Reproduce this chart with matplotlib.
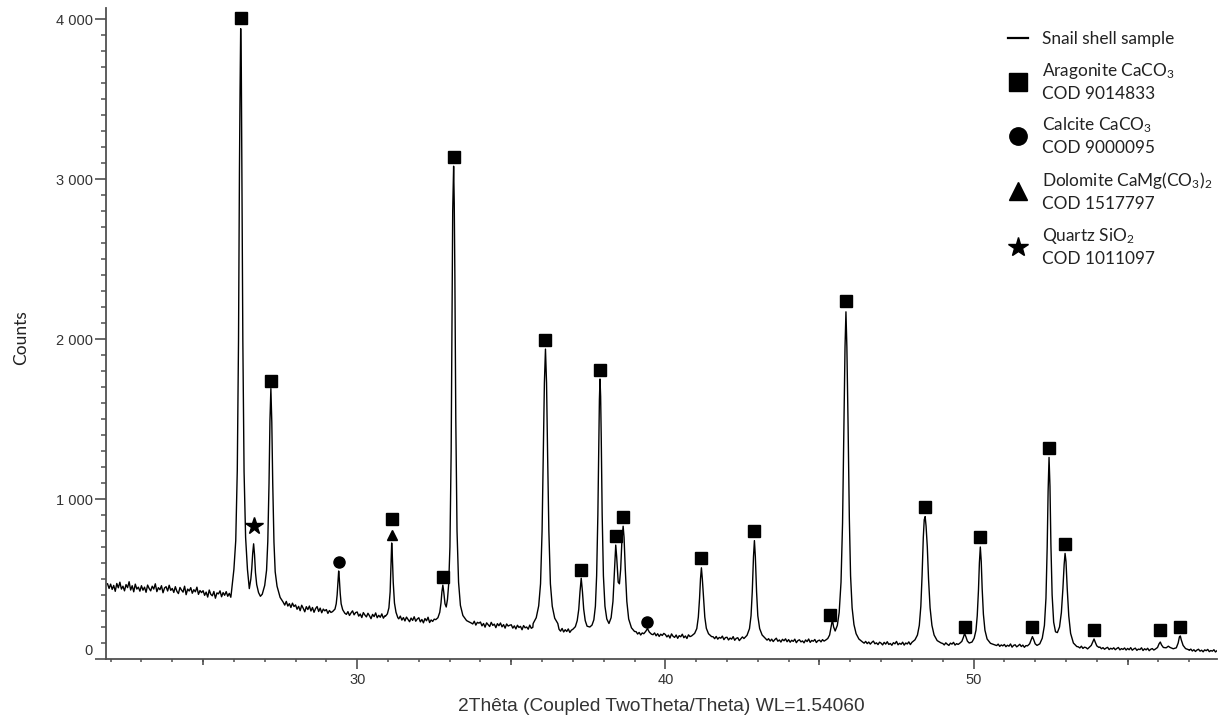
import numpy as np
import matplotlib
matplotlib.use("Agg")
import matplotlib.pyplot as plt
from matplotlib.lines import Line2D
from matplotlib.ticker import MultipleLocator, FixedLocator, FuncFormatter, NullLocator

# ---------------- data ----------------
# background scan, counts every 0.05 deg 2theta starting at 21.90
bg_start = 21.90
bg_step = 0.05
bg_counts = [
    470, 441,
    468, 435, 460, 423, 472, 445, 480, 437, 455, 426, 465, 446, 483, 431, 458, 420, 468, 437, 449, 424,
    458, 430, 449, 417, 462, 441, 426, 455, 437, 470, 421, 446, 433, 458, 414, 444, 452, 425, 461, 429,
    441, 416, 452, 423, 409, 447, 431, 418, 455, 402, 437, 425, 446, 411, 433, 420, 449, 404, 428, 415,
    427, 398, 418, 387, 431, 404, 395, 422, 380, 413, 407, 426, 389, 415, 398, 421, 392, 410, 386, 404,
    400, 400, 400, 400, 400, 400, 400, 400, 400, 400, 400, 400, 400, 400, 400, 400, 400, 400, 400, 400,
    360, 360, 360, 360, 360, 360, 360, 360, 360, 360, 360, 360, 352, 337, 360, 331, 346, 322, 349, 328,
    338, 311, 329, 302, 336, 317, 295, 327, 309, 331, 300, 322, 292, 315, 328, 297, 318, 289, 312, 301,
    309, 285, 303, 291, 296, 295, 295, 295, 295, 295, 295, 295, 295, 279, 296, 272, 288, 301, 276, 290,
    294, 268, 281, 259, 290, 275, 263, 286, 270, 252, 279, 265, 288, 258, 273, 261, 282, 255, 270, 264,
    262, 262, 262, 262, 262, 262, 262, 251, 268, 243, 259, 238, 262, 247, 233, 256, 241, 264, 236, 250,
    258, 232, 247, 226, 253, 239, 261, 228, 244, 235, 249, 240, 240, 240, 240, 240, 240, 240, 240, 240,
    232, 232, 232, 232, 232, 232, 232, 232, 232, 232, 232, 232, 232, 232, 232, 219, 236, 212, 229, 224,
    231, 207, 222, 199, 226, 214, 203, 229, 210, 218, 196, 221, 208, 225, 201, 215, 193, 219, 206, 211,
    214, 193, 207, 188, 211, 197, 204, 183, 209, 195, 200, 186, 212, 192, 198, 200, 200, 200, 200, 200,
    190, 190, 190, 190, 190, 190, 190, 190, 190, 190, 190, 186, 174, 191, 169, 183, 172, 188, 166, 180,
    180, 180, 180, 180, 180, 180, 180, 180, 180, 180, 180, 180, 180, 180, 180, 180, 180, 180, 180, 180,
    175, 175, 175, 175, 175, 175, 175, 175, 175, 175, 175, 175, 175, 175, 175, 175, 175, 175, 175, 175,
    162, 171, 156, 166, 150, 163, 160, 160, 160, 160, 160, 160, 152, 163, 145, 158, 141, 155, 147, 160,
    153, 138, 149, 131, 157, 142, 135, 150, 129, 146, 139, 155, 133, 144, 128, 151, 140, 140, 140, 140,
    140, 140, 140, 140, 140, 140, 140, 140, 140, 140, 140, 139, 127, 141, 124, 135, 130, 143, 121, 134,
    136, 119, 131, 124, 140, 117, 129, 133, 115, 127, 138, 128, 128, 128, 128, 128, 128, 128, 128, 128,
    128, 128, 128, 128, 128, 128, 118, 127, 112, 124, 109, 121, 130, 111, 119, 106, 123, 114, 126, 108,
    121, 105, 117, 110, 124, 102, 115, 120, 107, 113, 101, 119, 109, 125, 104, 116, 111, 122, 103, 114,
    118, 107, 121, 112, 115, 115, 115, 115, 115, 115, 115, 115, 115, 115, 115, 115, 115, 115, 115, 115,
    106, 106, 106, 106, 106, 106, 106, 106, 106, 99, 110, 96, 106, 93, 104, 112, 95, 101, 90, 105,
    99, 88, 104, 93, 108, 91, 97, 86, 102, 95, 110, 89, 98, 92, 105, 87, 100, 94, 107, 90,
    100, 100, 100, 100, 100, 100, 100, 100, 100, 100, 100, 100, 100, 100, 100, 100, 100, 100, 100, 100,
    97, 88, 101, 92, 85, 99, 93, 104, 87, 96, 91, 98, 98, 98, 98, 98, 98, 98, 98, 98,
    90, 90, 90, 90, 90, 90, 90, 90, 90, 90, 90, 90, 90, 90, 90, 84, 93, 79, 88, 82,
    91, 77, 86, 80, 94, 74, 85, 89, 76, 83, 92, 78, 87, 73, 84, 82, 82, 82, 82, 82,
    80, 80, 80, 80, 80, 80, 80, 80, 80, 80, 80, 80, 80, 80, 80, 80, 80, 80, 80, 80,
    78, 78, 78, 78, 78, 78, 78, 78, 76, 69, 80, 66, 74, 71, 63, 72, 72, 72, 72, 72,
    72, 72, 75, 64, 71, 61, 68, 73, 59, 67, 62, 70, 58, 66, 72, 57, 65, 60, 69, 56,
    66, 58, 71, 55, 63, 68, 54, 62, 59, 70, 53, 64, 57, 67, 52, 61, 65, 56, 60, 60,
    60, 60, 60, 60, 60, 60, 60, 60, 60, 60, 60, 60, 60, 60, 60, 60, 60, 60, 60, 60,
    54, 62, 50, 58, 47, 56, 61, 49, 55, 45, 57, 52, 60, 46, 53, 49, 58, 44, 52,
]

# detailed peak profiles (2theta, counts)
pk_26_27_x = [25.92, 26.00, 26.06, 26.11, 26.15, 26.18, 26.20, 26.22, 26.24, 26.26, 26.29, 26.33, 26.38,
              26.44, 26.50, 26.55, 26.58, 26.61, 26.64, 26.67, 26.70, 26.74, 26.80, 26.86, 26.92, 27.00,
              27.06, 27.10, 27.14, 27.17, 27.20, 27.23, 27.26, 27.30, 27.34, 27.40, 27.50, 27.60]
pk_26_27_y = [418, 560, 740, 1180, 1990, 3050, 3550, 3940, 3700, 3050, 1990, 1170, 760,
              560, 440, 500, 565, 660, 720, 650, 540, 465, 415, 392, 405, 460,
              555, 735, 1100, 1490, 1690, 1480, 1100, 730, 545, 455, 385, 355]
pk_29_x = [29.22, 29.28, 29.32, 29.35, 29.38, 29.40, 29.42, 29.45, 29.48, 29.53, 29.60]
pk_29_y = [300, 312, 345, 400, 495, 550, 505, 410, 345, 308, 286]
pk_31_x = [30.92, 30.98, 31.03, 31.07, 31.10, 31.12, 31.14, 31.17, 31.21, 31.26, 31.32]
pk_31_y = [268, 282, 320, 420, 600, 725, 650, 480, 350, 292, 258]
pk_33_x = [32.55, 32.62, 32.68, 32.72, 32.75, 32.78, 32.81, 32.85, 32.89, 32.93, 32.97, 33.01, 33.05,
           33.08, 33.10, 33.13, 33.15, 33.17, 33.20, 33.24, 33.29, 33.35, 33.43, 33.55, 33.70]
pk_33_y = [246, 258, 292, 350, 420, 462, 418, 345, 325, 372, 470, 700, 1300,
           2200, 2800, 3080, 2850, 2400, 1500, 800, 480, 335, 272, 240, 225]
pk_36_x = [35.71, 35.81, 35.89, 35.95, 36.00, 36.04, 36.075, 36.11, 36.145, 36.18, 36.22, 36.27,
           36.33, 36.41, 36.51]
pk_36_y = [222, 258, 332, 470, 800, 1275, 1725, 1937, 1725, 1270, 800, 470, 330, 255, 222]
pk_37_39_x = [37.00, 37.08, 37.14, 37.19, 37.23, 37.27, 37.31, 37.35, 37.40, 37.46, 37.55, 37.62, 37.68,
              37.73, 37.77, 37.81, 37.84, 37.86, 37.88, 37.90, 37.92, 37.95, 37.99, 38.04, 38.10, 38.17,
              38.24, 38.30, 38.34, 38.37, 38.39, 38.42, 38.47, 38.51, 38.55, 38.59, 38.63, 38.66, 38.70,
              38.75, 38.81, 38.90, 39.00]
pk_37_39_y = [186, 202, 240, 310, 420, 505, 420, 312, 240, 205, 200, 212, 245,
              330, 520, 900, 1350, 1620, 1750, 1640, 1380, 900, 520, 330, 250, 222,
              258, 360, 520, 650, 712, 640, 480, 470, 560, 740, 830, 760, 560,
              360, 250, 195, 172]
pk_394_x = [39.30, 39.36, 39.42, 39.48, 39.55]
pk_394_y = [158, 172, 190, 168, 155]
pk_41_x = [40.85, 40.95, 41.02, 41.07, 41.11, 41.14, 41.17, 41.20, 41.24, 41.28, 41.33, 41.40, 41.50]
pk_41_y = [144, 160, 190, 262, 380, 500, 570, 500, 380, 262, 192, 158, 140]
pk_43_x = [42.55, 42.65, 42.73, 42.78, 42.82, 42.86, 42.89, 42.92, 42.96, 43.00, 43.06, 43.14, 43.25]
pk_43_y = [128, 148, 190, 270, 420, 640, 740, 640, 420, 270, 190, 150, 128]
pk_46_x = [45.20, 45.27, 45.33, 45.38, 45.42, 45.46, 45.51, 45.58, 45.64, 45.70, 45.75, 45.79, 45.83,
           45.86, 45.89, 45.93, 45.97, 46.01, 46.06, 46.12, 46.19, 46.28, 46.40]
pk_46_y = [118, 128, 150, 205, 245, 200, 175, 210, 290, 480, 850, 1400, 1950,
           2170, 1950, 1450, 880, 520, 320, 215, 158, 125, 106]
pk_48_x = [48.00, 48.10, 48.18, 48.24, 48.29, 48.33, 48.37, 48.40, 48.43, 48.46, 48.50, 48.54, 48.59,
           48.65, 48.72, 48.82, 48.95]
pk_48_y = [104, 120, 150, 210, 330, 520, 760, 870, 890, 830, 700, 500, 320, 210, 150, 115, 100]
pk_50_x = [49.55, 49.62, 49.67, 49.71, 49.75, 49.80, 49.86, 49.95, 50.02, 50.08, 50.12, 50.16, 50.19,
           50.22, 50.25, 50.28, 50.32, 50.37, 50.44, 50.55, 50.70]
pk_50_y = [98, 110, 135, 160, 140, 112, 100, 106, 130, 180, 270, 430, 600, 700, 610, 440, 280, 180,
           125, 98, 88]
pk_52_53_x = [51.75, 51.82, 51.87, 51.91, 51.95, 52.00, 52.06, 52.15, 52.23, 52.30, 52.35, 52.39, 52.42,
              52.45, 52.48, 52.51, 52.55, 52.60, 52.66, 52.72, 52.79, 52.85, 52.90, 52.94, 52.97, 53.00,
              53.04, 53.09, 53.15, 53.24, 53.35]
pk_52_53_y = [82, 95, 120, 140, 122, 95, 85, 95, 130, 210, 380, 700, 1050,
              1260, 1080, 720, 400, 230, 170, 165, 200, 290, 440, 590, 660, 610,
              440, 270, 160, 100, 78]
pk_54_x = [53.75, 53.82, 53.87, 53.91, 53.95, 54.00, 54.07]
pk_54_y = [72, 85, 108, 125, 105, 82, 72]
pk_56_x = [55.90, 55.97, 56.02, 56.06, 56.10, 56.16, 56.25, 56.32, 56.38, 56.48, 56.58, 56.64, 56.68,
           56.71, 56.74, 56.80, 56.88, 56.98]
pk_56_y = [62, 72, 95, 106, 88, 72, 70, 80, 72, 64, 70, 100, 138, 144, 120, 85, 65, 58]

# phase markers (2theta, counts at which the symbol sits)
aragonite_2theta = [26.22, 27.20, 31.12, 32.78, 33.13, 36.11, 37.27, 37.88, 38.39, 38.63, 41.17, 42.89,
                    45.35, 45.86, 48.43, 49.71, 50.22, 51.91, 52.45, 52.97, 53.91, 56.05, 56.71]
aragonite_counts = [4006, 1740, 875, 515, 3135, 1995, 556, 1806, 768, 885, 630, 800,
                    275, 2235, 950, 200, 760, 200, 1320, 720, 181, 181, 200]
calcite_2theta = [29.40, 39.42]
calcite_counts = [606, 231]
dolomite_2theta = [31.12]
dolomite_counts = [775]
quartz_2theta = [26.64]
quartz_counts = [830]

legend_labels = ["Snail shell sample",
                 "Aragonite CaCO$_3$\nCOD 9014833",
                 "Calcite CaCO$_3$\nCOD 9000095",
                 "Dolomite CaMg(CO$_3$)$_2$\nCOD 1517797",
                 "Quartz SiO$_2$\nCOD 1011097"]
x_label = "2Thêta (Coupled TwoTheta/Theta) WL=1.54060"
y_label = "Counts"

# ---------------- assemble trace ----------------
groups = [(pk_26_27_x, pk_26_27_y), (pk_29_x, pk_29_y), (pk_31_x, pk_31_y), (pk_33_x, pk_33_y),
          (pk_36_x, pk_36_y), (pk_37_39_x, pk_37_39_y), (pk_394_x, pk_394_y), (pk_41_x, pk_41_y),
          (pk_43_x, pk_43_y), (pk_46_x, pk_46_y), (pk_48_x, pk_48_y), (pk_50_x, pk_50_y),
          (pk_52_53_x, pk_52_53_y), (pk_54_x, pk_54_y), (pk_56_x, pk_56_y)]
x_bg = bg_start + bg_step * np.arange(len(bg_counts))
y_bg = np.array(bg_counts, dtype=float)
keep = np.ones(len(x_bg), dtype=bool)
for gx, gy in groups:
    keep &= ~((x_bg >= gx[0] - 1e-9) & (x_bg <= gx[-1] + 1e-9))
x_all = np.concatenate([x_bg[keep]] + [np.array(gx) for gx, gy in groups])
y_all = np.concatenate([y_bg[keep]] + [np.array(gy, dtype=float) for gx, gy in groups])
order = np.argsort(x_all)
x_all, y_all = x_all[order], y_all[order]

# ---------------- figure ----------------
plt.rcParams['font.family'] = ['Liberation Sans', 'DejaVu Sans']
plt.rcParams['mathtext.fontset'] = 'custom'
plt.rcParams['mathtext.rm'] = 'Lato'
plt.rcParams['mathtext.default'] = 'regular'

W, H = 1220, 720
fig = plt.figure(figsize=(W / 100, H / 100), dpi=100)
L, R, T, B = 106, 1217, 8, 659
ax = fig.add_axes([L / W, 1 - B / H, (R - L) / W, (B - T) / H])

axis_col = '#505050'
text_col = '#333333'

ax.plot(x_all, y_all, color='black', lw=1.0)
ax.plot(aragonite_2theta, aragonite_counts, ls='none', marker='s', ms=8.4, color='black', clip_on=False)
ax.plot(calcite_2theta, calcite_counts, ls='none', marker='o', ms=8.0, color='black')
ax.plot(dolomite_2theta, dolomite_counts, ls='none', marker='^', ms=7.5, color='black')
ax.plot(quartz_2theta, quartz_counts, ls='none', marker='*', ms=13, color='black')

ax.set_xlim(21.85, 57.9)
ax.set_ylim(0, 4069)

for s in ['top', 'right']:
    ax.spines[s].set_visible(False)
for s in ['left', 'bottom']:
    ax.spines[s].set_color(axis_col)
    ax.spines[s].set_linewidth(1.3)

ax.xaxis.set_major_locator(FixedLocator([30, 40, 50]))
ax.xaxis.set_minor_locator(MultipleLocator(1))
ax.tick_params(axis='x', which='major', length=7.2, width=1.2, color=axis_col, pad=3,
               labelsize=10.5, labelcolor=text_col)
ax.tick_params(axis='x', which='minor', length=2.5, width=1.1, color=axis_col)

ax.yaxis.set_major_locator(MultipleLocator(1000))
ax.yaxis.set_minor_locator(MultipleLocator(100))
ax.yaxis.set_major_formatter(FuncFormatter(
    lambda v, p: '' if v == 0 else f"{int(round(v)):,}".replace(',', ' ')))
ax.tick_params(axis='y', which='major', length=8, width=1.2, color=axis_col, pad=1.5,
               labelsize=10.5, labelcolor=text_col)
ax.tick_params(axis='y', which='minor', length=3.6, width=1.1, color=axis_col)
ax.annotate('0', xy=(0, 0), xycoords=('axes fraction', 'data'), xytext=(-9.4, 5.8),
            textcoords='offset points', ha='right', va='center', fontsize=10.5, color=text_col)

# intermediate (5 deg) ticks
sec = ax.secondary_xaxis('bottom')
sec.xaxis.set_major_locator(FixedLocator([25, 35, 45, 55]))
sec.xaxis.set_minor_locator(NullLocator())
sec.tick_params(axis='x', which='major', length=4.3, width=1.2, color=axis_col, labelbottom=False)
sec.spines['bottom'].set_visible(False)

ax.set_xlabel(x_label, fontsize=13.8, color=text_col)
ax.xaxis.set_label_coords(0.5, -0.060)
ax.set_ylabel(y_label, fontsize=12.5, color='#222222', family=['Lato', 'DejaVu Sans'])
ax.yaxis.set_label_coords(-0.069, 0.493)

handles = [Line2D([], [], color='black', lw=1.6),
           Line2D([], [], ls='none', marker='s', ms=13, color='black'),
           Line2D([], [], ls='none', marker='o', ms=12.5, color='black'),
           Line2D([], [], ls='none', marker='^', ms=13, color='black'),
           Line2D([], [], ls='none', marker='*', ms=15, color='black')]
leg = ax.legend(handles, legend_labels, loc='upper left', bbox_to_anchor=(1008 / W, 1 - 31 / H),
                bbox_transform=fig.transFigure, frameon=False, borderpad=0, borderaxespad=0,
                handlelength=1.15, handletextpad=0.8, labelspacing=0.8,
                prop={'family': ['Lato', 'DejaVu Sans'], 'size': 12.4})
for t in leg.get_texts():
    t.set_color('#222222')
    t.set_linespacing(1.38)

fig.savefig('out.png', dpi=100)
